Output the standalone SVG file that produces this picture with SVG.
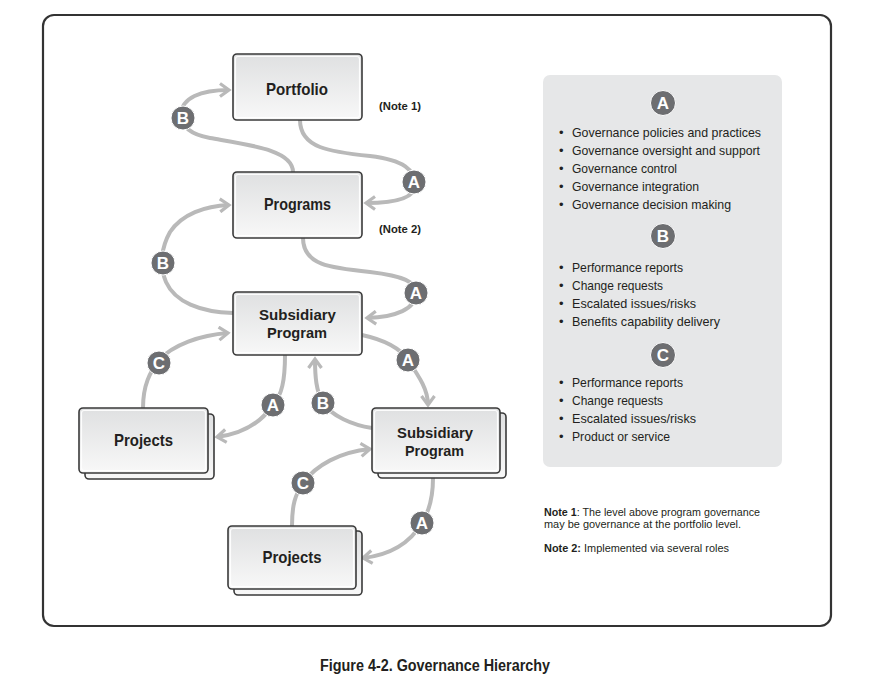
<svg xmlns="http://www.w3.org/2000/svg" width="881" height="688" viewBox="0 0 881 688">
<defs>
<linearGradient id="bg" x1="0" y1="0" x2="0" y2="1">
<stop offset="0" stop-color="#dfe0e1"/>
<stop offset="1" stop-color="#f8f8f8"/>
</linearGradient>
<marker id="ah" markerUnits="userSpaceOnUse" markerWidth="16" markerHeight="16" refX="11" refY="8" orient="auto" viewBox="0 0 16 16">
<path d="M2,1.5 L11,8 L2,14.5" fill="none" stroke="#b9b9b9" stroke-width="3.2"/>
</marker>
</defs>
<style>
.frame{fill:#fff;stroke:#333;stroke-width:2.2}
.box{fill:url(#bg);stroke:#3a3a3a;stroke-width:1.6}
.inner{fill:none;stroke:#fff;stroke-width:1.2;opacity:0.9}
.lbl{font-family:"Liberation Sans",Arial,sans-serif;font-weight:bold;font-size:17px;fill:#231f20;text-anchor:middle}
.lbl2{font-family:"Liberation Sans",Arial,sans-serif;font-weight:bold;font-size:15.5px;fill:#231f20;text-anchor:middle}
.con{fill:none;stroke:#b9b9b9;stroke-width:4;stroke-linecap:butt}
.arr{marker-end:url(#ah)}
.bdg{fill:#6d6e71;stroke:#fff;stroke-width:1}
.bl{font-family:"Liberation Sans",Arial,sans-serif;font-weight:bold;font-size:17px;fill:#fff;text-anchor:middle}
.panel{fill:#e6e7e8}
.li{font-family:"Liberation Sans",Arial,sans-serif;font-size:13px;fill:#231f20}
.note{font-family:"Liberation Sans",Arial,sans-serif;font-size:10.5px;fill:#231f20}
.nlbl{font-family:"Liberation Sans",Arial,sans-serif;font-weight:bold;font-size:10.5px;fill:#231f20}
.cap{font-family:"Liberation Sans",Arial,sans-serif;font-weight:bold;font-size:16px;fill:#231f20}
</style>
<rect x="43" y="15" width="788" height="611" rx="11" class="frame"/>

<g id="connectors">
<path class="con arr" d="M293,172 C293,150 250,145 210,138 C188,134 181,124 181,114 C182,98 200,90 229,90"/>
<path class="con arr" d="M300,120 C300,148 330,152 370,156 C404,160 415,170 415,185 C415,198 396,203 366,203"/>
<path class="con arr" d="M233,313 C200,312 175,302 166,282 C160,268 160,250 170,232 C182,214 205,206 229,205"/>
<path class="con arr" d="M303,238 C303,265 330,268 370,272 C404,276 416,282 416,293 C416,309 396,317 367,318"/>
<path class="con arr" d="M143,408 C143,385 150,372 159,360 C173,345 200,335 228,333"/>
<path class="con arr" d="M285,355 C285,380 282,395 273,405 C260,424 242,434 217,437"/>
<path class="con arr" d="M372,428 C352,425 332,416 323,403 C316,391 315,376 315,359"/>
<path class="con arr" d="M362,335 C385,340 400,348 408,360 C420,378 428,390 428,405"/>
<path class="con arr" d="M292,526 C292,505 295,495 303,483 C316,465 340,452 370,449"/>
<path class="con arr" d="M433,478 C433,495 430,510 422,523 C410,543 390,555 363,558"/>
</g>

<g id="badges">
<circle class="bdg" cx="183" cy="118" r="12"/><text class="bl" x="183" y="124">B</text>
<circle class="bdg" cx="414" cy="182" r="12"/><text class="bl" x="414" y="188">A</text>
<circle class="bdg" cx="163" cy="263" r="12"/><text class="bl" x="163" y="269">B</text>
<circle class="bdg" cx="416" cy="293" r="12"/><text class="bl" x="416" y="299">A</text>
<circle class="bdg" cx="159" cy="363" r="12"/><text class="bl" x="159" y="369">C</text>
<circle class="bdg" cx="273" cy="405" r="12"/><text class="bl" x="273" y="411">A</text>
<circle class="bdg" cx="323" cy="403" r="12"/><text class="bl" x="323" y="409">B</text>
<circle class="bdg" cx="408" cy="360" r="12"/><text class="bl" x="408" y="366">A</text>
<circle class="bdg" cx="303" cy="483" r="12"/><text class="bl" x="303" y="489">C</text>
<circle class="bdg" cx="422" cy="523" r="12"/><text class="bl" x="422" y="529">A</text>
</g>

<g id="portfolio">
<rect class="box" x="233" y="54" width="129" height="66" rx="4"/>
<rect class="inner" x="235.5" y="56.5" width="124" height="61" rx="2.5"/>
<text class="lbl" x="297" y="95" textLength="62" lengthAdjust="spacingAndGlyphs">Portfolio</text>
</g>
<g id="programs">
<rect class="box" x="233" y="172" width="129" height="66" rx="4"/>
<rect class="inner" x="235.5" y="174.5" width="124" height="61" rx="2.5"/>
<text class="lbl" x="297.5" y="210" textLength="67" lengthAdjust="spacingAndGlyphs">Programs</text>
</g>
<g id="subsidiary1">
<rect class="box" x="233" y="292" width="129" height="63" rx="4"/>
<rect class="inner" x="235.5" y="294.5" width="124" height="58" rx="2.5"/>
<text class="lbl2" x="297.5" y="320" textLength="77" lengthAdjust="spacingAndGlyphs">Subsidiary</text>
<text class="lbl2" x="297" y="338" textLength="60" lengthAdjust="spacingAndGlyphs">Program</text>
</g>
<g id="projects1">
<rect class="box" x="85" y="414" width="129" height="65" rx="4"/>
<rect class="box" x="79" y="408" width="129" height="65" rx="4"/>
<rect class="inner" x="81.5" y="410.5" width="124" height="60" rx="2.5"/>
<text class="lbl" x="143.5" y="446" textLength="59" lengthAdjust="spacingAndGlyphs">Projects</text>
</g>
<g id="subsidiary2">
<rect class="box" x="378" y="413" width="128" height="65" rx="4"/>
<rect class="box" x="372" y="408" width="128" height="65" rx="4"/>
<rect class="inner" x="374.5" y="410.5" width="123" height="60" rx="2.5"/>
<text class="lbl2" x="435" y="438" textLength="76" lengthAdjust="spacingAndGlyphs">Subsidiary</text>
<text class="lbl2" x="434.5" y="456" textLength="59" lengthAdjust="spacingAndGlyphs">Program</text>
</g>
<g id="projects2">
<rect class="box" x="234" y="531" width="128" height="64" rx="4"/>
<rect class="box" x="228" y="526" width="128" height="63" rx="4"/>
<rect class="inner" x="230.5" y="528.5" width="123" height="58" rx="2.5"/>
<text class="lbl" x="292" y="563" textLength="59" lengthAdjust="spacingAndGlyphs">Projects</text>
</g>

<g id="notes-labels">
<text class="nlbl" x="379" y="110" textLength="42" lengthAdjust="spacingAndGlyphs">(Note 1)</text>
<text class="nlbl" x="379" y="233" textLength="42" lengthAdjust="spacingAndGlyphs">(Note 2)</text>
</g>

<g id="legend">
<rect class="panel" x="543" y="75" width="239" height="392" rx="7"/>
<circle class="bdg" cx="663" cy="103" r="12.5"/><text class="bl" x="663" y="109">A</text>
<g class="li">
<text x="559" y="137">•</text><text x="572" y="137" textLength="189" lengthAdjust="spacingAndGlyphs">Governance policies and practices</text>
<text x="559" y="155">•</text><text x="572" y="155" textLength="188" lengthAdjust="spacingAndGlyphs">Governance oversight and support</text>
<text x="559" y="173">•</text><text x="572" y="173" textLength="105" lengthAdjust="spacingAndGlyphs">Governance control</text>
<text x="559" y="191">•</text><text x="572" y="191" textLength="127" lengthAdjust="spacingAndGlyphs">Governance integration</text>
<text x="559" y="209">•</text><text x="572" y="209" textLength="159" lengthAdjust="spacingAndGlyphs">Governance decision making</text>
</g>
<circle class="bdg" cx="663" cy="236" r="12.5"/><text class="bl" x="663" y="242">B</text>
<g class="li">
<text x="559" y="272">•</text><text x="572" y="272" textLength="111" lengthAdjust="spacingAndGlyphs">Performance reports</text>
<text x="559" y="290">•</text><text x="572" y="290" textLength="91" lengthAdjust="spacingAndGlyphs">Change requests</text>
<text x="559" y="308">•</text><text x="572" y="308" textLength="124" lengthAdjust="spacingAndGlyphs">Escalated issues/risks</text>
<text x="559" y="326">•</text><text x="572" y="326" textLength="148" lengthAdjust="spacingAndGlyphs">Benefits capability delivery</text>
</g>
<circle class="bdg" cx="663" cy="355" r="12.5"/><text class="bl" x="663" y="361">C</text>
<g class="li">
<text x="559" y="387">•</text><text x="572" y="387" textLength="111" lengthAdjust="spacingAndGlyphs">Performance reports</text>
<text x="559" y="405">•</text><text x="572" y="405" textLength="91" lengthAdjust="spacingAndGlyphs">Change requests</text>
<text x="559" y="423">•</text><text x="572" y="423" textLength="124" lengthAdjust="spacingAndGlyphs">Escalated issues/risks</text>
<text x="559" y="441">•</text><text x="572" y="441" textLength="98" lengthAdjust="spacingAndGlyphs">Product or service</text>
</g>
</g>

<g id="notes">
<text class="note" x="544" y="516" textLength="216" lengthAdjust="spacingAndGlyphs"><tspan font-weight="bold">Note 1</tspan>: The level above program governance</text>
<text class="note" x="544" y="528" textLength="197" lengthAdjust="spacingAndGlyphs">may be governance at the portfolio level.</text>
<text class="note" x="544" y="552" textLength="185" lengthAdjust="spacingAndGlyphs"><tspan font-weight="bold">Note 2:</tspan> Implemented via several roles</text>
</g>

<text class="cap" x="320" y="671" textLength="230" lengthAdjust="spacingAndGlyphs">Figure 4-2. Governance Hierarchy</text>
</svg>
